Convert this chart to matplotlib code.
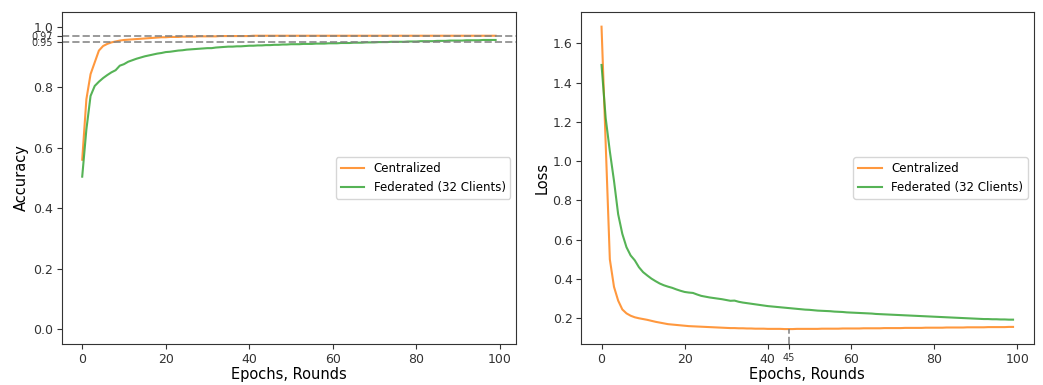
import numpy as np
import matplotlib
matplotlib.use('Agg')
import matplotlib.pyplot as plt

epochs = np.arange(100)

acc_central = [
    0.560, 0.760, 0.843, 0.882, 0.921, 0.936, 0.943, 0.948, 0.951, 0.954,
    0.956, 0.957, 0.958, 0.959, 0.960, 0.961, 0.962, 0.963, 0.964, 0.965,
    0.965, 0.966, 0.966, 0.966, 0.967, 0.967, 0.967, 0.967, 0.968, 0.968,
    0.968, 0.968, 0.968, 0.969, 0.969, 0.969, 0.969, 0.969, 0.969, 0.969,
    0.969, 0.970, 0.970, 0.970, 0.970, 0.970, 0.970, 0.970, 0.970, 0.970,
    0.970, 0.970, 0.970, 0.970, 0.970, 0.970, 0.970, 0.970, 0.970, 0.970,
    0.970, 0.970, 0.970, 0.970, 0.970, 0.970, 0.970, 0.970, 0.970, 0.970,
    0.970, 0.970, 0.970, 0.970, 0.970, 0.970, 0.970, 0.970, 0.970, 0.970,
    0.970, 0.970, 0.970, 0.970, 0.970, 0.970, 0.970, 0.970, 0.970, 0.970,
    0.970, 0.970, 0.970, 0.970, 0.970, 0.970, 0.970, 0.970, 0.970, 0.970,
]
acc_fed = [
    0.504, 0.660, 0.771, 0.804, 0.818, 0.830, 0.840, 0.849, 0.856, 0.871,
    0.876, 0.884, 0.889, 0.894, 0.898, 0.902, 0.905, 0.908, 0.911, 0.913,
    0.916, 0.917, 0.919, 0.921, 0.922, 0.924, 0.925, 0.926, 0.927, 0.928,
    0.929, 0.929, 0.931, 0.932, 0.933, 0.934, 0.934, 0.935, 0.935, 0.936,
    0.937, 0.937, 0.938, 0.938, 0.939, 0.939, 0.940, 0.940, 0.941, 0.941,
    0.942, 0.942, 0.942, 0.943, 0.943, 0.943, 0.944, 0.944, 0.944, 0.945,
    0.945, 0.945, 0.946, 0.946, 0.946, 0.947, 0.947, 0.947, 0.948, 0.948,
    0.948, 0.949, 0.949, 0.949, 0.950, 0.950, 0.950, 0.950, 0.951, 0.951,
    0.951, 0.952, 0.952, 0.952, 0.952, 0.953, 0.953, 0.953, 0.954, 0.954,
    0.954, 0.954, 0.955, 0.955, 0.955, 0.955, 0.956, 0.956, 0.956, 0.956,
]
loss_central = [
    1.685, 1.090, 0.500, 0.360, 0.290, 0.245, 0.225, 0.213, 0.205, 0.200,
    0.196, 0.192, 0.187, 0.182, 0.178, 0.174, 0.170, 0.168, 0.166, 0.164,
    0.162, 0.160, 0.159, 0.158, 0.157, 0.156, 0.155, 0.154, 0.153, 0.152,
    0.151, 0.150, 0.150, 0.149, 0.149, 0.148, 0.148, 0.147, 0.147, 0.147,
    0.146, 0.146, 0.146, 0.146, 0.145, 0.145, 0.145, 0.146, 0.146, 0.146,
    0.146, 0.146, 0.146, 0.147, 0.147, 0.147, 0.147, 0.147, 0.148, 0.148,
    0.148, 0.148, 0.148, 0.149, 0.149, 0.149, 0.149, 0.149, 0.150, 0.150,
    0.150, 0.150, 0.150, 0.151, 0.151, 0.151, 0.151, 0.151, 0.152, 0.152,
    0.152, 0.152, 0.152, 0.153, 0.153, 0.153, 0.153, 0.153, 0.154, 0.154,
    0.154, 0.154, 0.154, 0.155, 0.155, 0.155, 0.155, 0.155, 0.156, 0.156,
]
loss_fed = [
    1.490, 1.220, 1.050, 0.900, 0.730, 0.630, 0.562, 0.520, 0.495, 0.460,
    0.435, 0.418, 0.402, 0.389, 0.377, 0.368, 0.361, 0.355, 0.347, 0.340,
    0.334, 0.331, 0.329, 0.321, 0.314, 0.310, 0.306, 0.303, 0.300, 0.297,
    0.293, 0.289, 0.290, 0.284, 0.280, 0.277, 0.274, 0.271, 0.268, 0.265,
    0.262, 0.260, 0.258, 0.256, 0.254, 0.252, 0.250, 0.248, 0.246, 0.244,
    0.243, 0.241, 0.239, 0.238, 0.237, 0.236, 0.234, 0.233, 0.232, 0.230,
    0.229, 0.228, 0.227, 0.226, 0.225, 0.224, 0.222, 0.221, 0.220, 0.219,
    0.218, 0.217, 0.216, 0.215, 0.214, 0.213, 0.212, 0.211, 0.210, 0.209,
    0.208, 0.207, 0.206, 0.205, 0.204, 0.203, 0.202, 0.201, 0.200, 0.199,
    0.198, 0.197, 0.196, 0.196, 0.195, 0.195, 0.194, 0.194, 0.193, 0.193,
]

acc_marks = [0.97, 0.95]
best_epoch = 45

c_orange = '#ff7f0e'
c_green = '#2ca02c'

fig = plt.figure(figsize=(10.43, 3.85), dpi=100)
ax1 = fig.add_axes([0.059, 0.106, 0.436, 0.864])
ax2 = fig.add_axes([0.557, 0.106, 0.434, 0.864])

# accuracy
ax1.plot(epochs, acc_central, color=c_orange, alpha=0.8, lw=1.5, label='Centralized')
ax1.plot(epochs, acc_fed, color=c_green, alpha=0.8, lw=1.5, label='Federated (32 Clients)')
for v in acc_marks:
    ax1.axhline(v, color='gray', ls='--', alpha=0.8, lw=1.4)
ax1.set_ylim(-0.05, 1.05)
ax1.set_yticks([0.0, 0.2, 0.4, 0.6, 0.8, 1.0] + acc_marks)
ax1.set_yticklabels(['0.0', '0.2', '0.4', '0.6', '0.8', '1.0'] + ['%.2f' % v for v in acc_marks])
ax1.tick_params(labelsize=9, colors='#333333', pad=2.5)
for lbl in ax1.get_yticklabels()[-2:]:
    lbl.set_fontsize(7)
ax1.set_xticks([0, 20, 40, 60, 80, 100])
ax1.set_xlabel('Epochs, Rounds', fontsize=10.5, labelpad=1)
ax1.set_ylabel('Accuracy', fontsize=10.5, labelpad=2)
ax1.legend(loc='center right', fontsize=8.5)

# loss
ax2.plot(epochs, loss_central, color=c_orange, alpha=0.8, lw=1.5, label='Centralized')
ax2.plot(epochs, loss_fed, color=c_green, alpha=0.8, lw=1.5, label='Federated (32 Clients)')
lo, hi = ax2.get_ylim()
ax2.set_ylim(lo, hi)
ax2.axvline(best_epoch, ymax=(loss_central[best_epoch] - lo) / (hi - lo),
            color='gray', ls='--', alpha=0.8, lw=1.4)
ax2.set_yticks([0.2, 0.4, 0.6, 0.8, 1.0, 1.2, 1.4, 1.6])
ax2.set_xticks([0, 20, 40, 60, 80, 100, best_epoch])
ax2.set_xticklabels(['0', '20', '40', '60', '80', '100', str(best_epoch)])
ax2.tick_params(labelsize=9, colors='#333333', pad=2.5)
ax2.get_xticklabels()[-1].set_fontsize(7)
ax2.set_xlabel('Epochs, Rounds', fontsize=10.5, labelpad=1)
ax2.set_ylabel('Loss', fontsize=10.5, labelpad=2)
ax2.legend(loc='center right', fontsize=8.5)

for ax in (ax1, ax2):
    for s in ax.spines.values():
        s.set_color('#333333')

fig.savefig('out.png', dpi=100)
